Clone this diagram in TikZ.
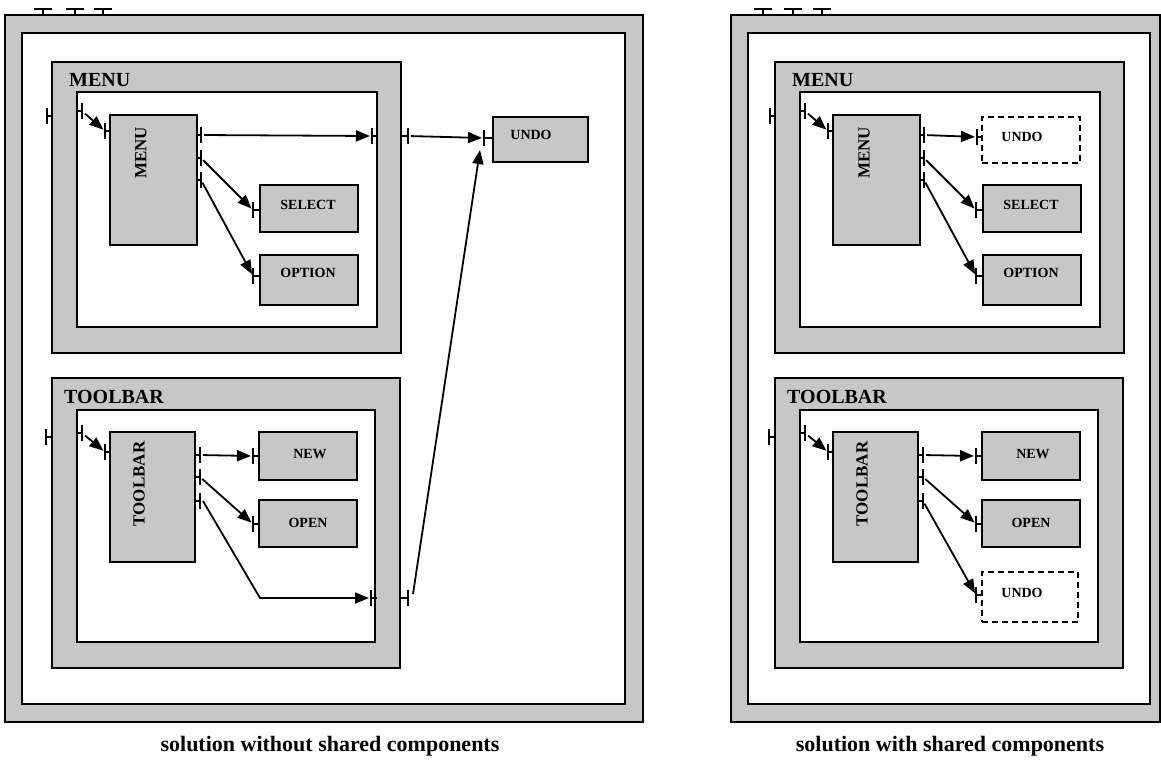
\documentclass[tikz,border=0pt]{standalone}
\usepackage{fontspec}
\setmainfont{Liberation Serif}
\usetikzlibrary{arrows.meta}
\tikzset{
  gbox/.style={draw=black, fill=black!22, line width=2.5pt, inner sep=0pt, outer sep=0pt},
  wbox/.style={draw=black, fill=white, line width=2.5pt, inner sep=0pt, outer sep=0pt},
  comp/.style={draw=black, fill=black!22, line width=2.2pt, inner sep=0pt, outer sep=0pt},
  dbox/.style={draw=black, fill=white, line width=2.2pt, dash pattern=on 6pt off 4pt, inner sep=0pt, outer sep=0pt},
  glabel/.style={font=\fontsize{20}{22}\selectfont\bfseries, inner sep=0pt},
  vlabel/.style={font=\fontsize{17}{19}\selectfont\bfseries, rotate=90, inner sep=0pt},
  blabel/.style={font=\fontsize{14}{16}\selectfont\bfseries, inner sep=0pt},
  captext/.style={font=\fontsize{22}{24}\selectfont\bfseries, inner sep=0pt},
  pin/.style={line width=1.6pt},
  tip/.style={-{Triangle[length=14pt,width=11pt]}},
  conn/.style={line width=1.8pt, tip, shorten >=2pt, shorten <=3pt},
}
\newcommand\Pin[4]{\coordinate (#1) at (#2,#3); \draw[pin] (#1) ++(0,-8) -- ++(0,16) (#1) -- ++(#4,0);}
\newcommand\Tmark[1]{\draw[pin] (#1-9,9) -- (#1+9,9) (#1,9) -- (#1,15);}
\newcommand\Diagram[1]{%
  % MENU group
  \node[gbox, anchor=north west, minimum width=349pt, minimum height=291pt] (#1mg) at (52,62) {};
  \node[wbox, anchor=north west, minimum width=300pt, minimum height=235pt] (#1mi) at (77,92) {};
  \node[glabel, anchor=west] (#1mgT) at (69,80) {MENU};
  \node[comp, anchor=north west, minimum width=87pt, minimum height=130pt] (#1mc) at (110,115) {};
  \node[vlabel] (#1mcT) at (141,153) {MENU};
  \node[comp, anchor=north west, minimum width=98pt, minimum height=47pt] (#1sel) at (260,185) {};
  \node[blabel] (#1selT) at (308,205) {SELECT};
  \node[comp, anchor=north west, minimum width=98pt, minimum height=50pt] (#1opt) at (260,255) {};
  \node[blabel] (#1optT) at (308,273) {OPTION};
  \Pin{#1mgIn}{47}{116}{5}
  \Pin{#1miIn}{82}{111}{-5}
  \Pin{#1mcIn}{105}{131}{5}
  \Pin{#1mcO1}{201}{135}{-4}
  \Pin{#1mcO2}{201}{158}{-4}
  \Pin{#1mcO3}{201}{180}{-4}
  \Pin{#1selIn}{253}{210}{7}
  \Pin{#1optIn}{253}{276}{7}
  \draw[conn, shorten <=4pt] (#1miIn) -- (#1mcIn);
  \draw[conn] (#1mcO2) -- (#1selIn);
  \draw[conn] (#1mcO3) -- (#1optIn);
  % TOOLBAR group
  \node[gbox, anchor=north west, minimum width=348pt, minimum height=290pt] (#1tg) at (52,378) {};
  \node[wbox, anchor=north west, minimum width=298pt, minimum height=232pt] (#1ti) at (77,410) {};
  \node[glabel, anchor=west] (#1tgT) at (64,397) {TOOLBAR};
  \node[comp, anchor=north west, minimum width=85pt, minimum height=130pt] (#1tc) at (110,432) {};
  \node[vlabel] (#1tcT) at (139,484) {TOOLBAR};
  \node[comp, anchor=north west, minimum width=98pt, minimum height=48pt] (#1new) at (259,432) {};
  \node[blabel] (#1newT) at (310,454) {NEW};
  \node[comp, anchor=north west, minimum width=98pt, minimum height=47pt] (#1open) at (259,500) {};
  \node[blabel] (#1openT) at (308,523) {OPEN};
  \Pin{#1tgIn}{46}{437}{6}
  \Pin{#1tiIn}{82}{433}{-5}
  \Pin{#1tcIn}{105}{452}{5}
  \Pin{#1tcO1}{200}{455}{-5}
  \Pin{#1tcO2}{200}{477}{-5}
  \Pin{#1tcO3}{200}{501}{-5}
  \Pin{#1newIn}{253}{456}{6}
  \Pin{#1openIn}{253}{524}{6}
  \draw[conn, shorten <=4pt] (#1tiIn) -- (#1tcIn);
  \draw[conn] (#1tcO1) -- (#1newIn);
  \draw[conn] (#1tcO2) -- (#1openIn);
}
\begin{document}
\begin{tikzpicture}[x=1pt,y=-1pt]
\useasboundingbox (0,0) rectangle (1161,761);
% ---------- left: without shared components ----------
\Tmark{43}\Tmark{75}\Tmark{103}
\node[gbox, anchor=north west, minimum width=638pt, minimum height=707pt] (Lframe) at (5,15) {};
\node[wbox, anchor=north west, minimum width=603pt, minimum height=671pt] (Linner) at (22,33) {};
\Diagram{L}
\Pin{LmiOut}{372}{136}{6}
\Pin{LmgOut}{408}{136}{-7}
\node[comp, anchor=north west, minimum width=95pt, minimum height=45pt] (Lundo) at (493,117) {};
\node[blabel] (LundoT) at (531,135) {UNDO};
\Pin{LundoIn}{484}{138}{9}
\draw[conn] (LmcO1) -- (LmiOut);
\draw[conn] (LmgOut) -- (LundoIn);
\Pin{LtiOut}{371}{598}{6}
\Pin{LtgOut}{408}{598}{-8}
\coordinate (Lbend) at (260,598);
\draw[line width=1.8pt, tip, shorten >=2pt] ([xshift=3pt]LtcO3) -- (Lbend) -- (LtiOut);
\coordinate (Lup) at (413,594);
\coordinate (LundoB) at (480,150);
\draw[line width=1.8pt, tip] (Lup) -- (LundoB);
\node[captext] (Lcap) at (330,746) {solution without shared components};
% ---------- right: with shared components ----------
\Tmark{763}\Tmark{793}\Tmark{822}
\node[gbox, anchor=north west, minimum width=429pt, minimum height=707pt] (Rframe) at (731,15) {};
\node[wbox, anchor=north west, minimum width=402pt, minimum height=671pt] (Rinner) at (748,33) {};
\begin{scope}[xshift=723pt]
\Diagram{R}
\end{scope}
\node[dbox, anchor=north west, minimum width=98pt, minimum height=46pt] (Rundo1) at (982,117) {};
\node[blabel] (Rundo1T) at (1022,137) {UNDO};
\Pin{Rundo1In}{977}{137}{5}
\draw[conn] (RmcO1) -- (Rundo1In);
\node[dbox, anchor=north west, minimum width=96pt, minimum height=50pt] (Rundo2) at (982,572) {};
\node[blabel] (Rundo2T) at (1022,593) {UNDO};
\Pin{Rundo2In}{976}{595}{6}
\draw[conn] (RtcO3) -- (Rundo2In);
\node[captext] (Rcap) at (950,746) {solution with shared components};
\end{tikzpicture}
\end{document}
